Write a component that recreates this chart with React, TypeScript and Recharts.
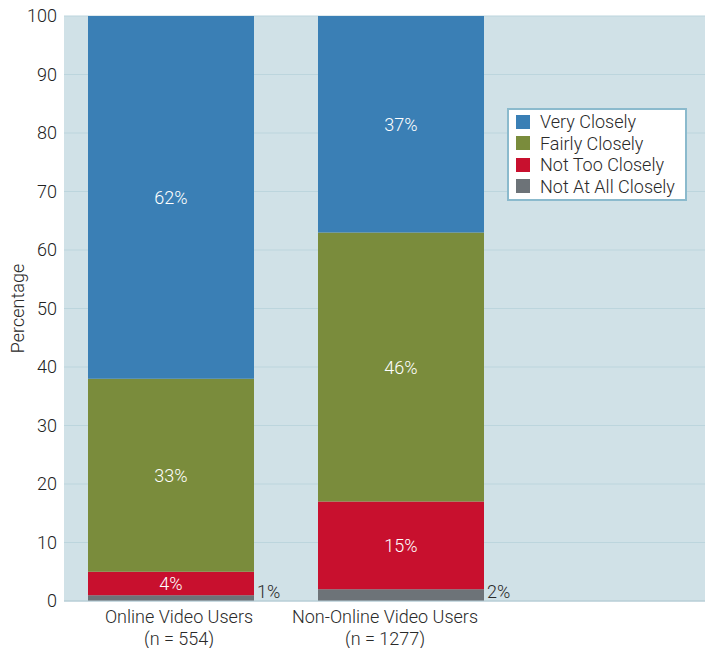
import React from 'react';
import { BarChart, Bar, XAxis, YAxis, CartesianGrid, LabelList } from 'recharts';

const categories = ['Online Video Users', 'Non-Online Video Users'];
const sampleSizes = ['(n = 554)', '(n = 1277)'];
const veryClosely = [62, 37];
const fairlyClosely = [33, 46];
const notTooClosely = [4, 15];
const notAtAllClosely = [1, 2];
const yTicks = [0, 10, 20, 30, 40, 50, 60, 70, 80, 90, 100];

const series = [
  { key: 'notAtAll', name: 'Not At All Closely', color: '#6d7378' },
  { key: 'notToo', name: 'Not Too Closely', color: '#c8102e' },
  { key: 'fairly', name: 'Fairly Closely', color: '#7a8c3c' },
  { key: 'very', name: 'Very Closely', color: '#3a7fb5' },
];

const data = categories.map((name, i) => ({
  name,
  sample: sampleSizes[i],
  very: veryClosely[i],
  fairly: fairlyClosely[i],
  notToo: notTooClosely[i],
  notAtAll: notAtAllClosely[i],
}));

const FONT = 'Roboto, "Liberation Sans", sans-serif';
const tickShift = [8, -16];

const CategoryTick = (props: any) => {
  const { x, y, payload, index } = props;
  const cx = x + (tickShift[index] ?? 0);
  return (
    <text x={cx} y={y} textAnchor="middle" fill="#2a2a2a" fontSize={18} fontFamily={FONT} fontWeight={300}>
      <tspan x={cx} dy={14}>{payload.value}</tspan>
      <tspan x={cx} dy={22}>{sampleSizes[index]}</tspan>
    </text>
  );
};

const pctLabel = (props: any) => {
  const { x, y, width, height, value } = props;
  return (
    <text
      x={x + width / 2}
      y={y + height / 2}
      textAnchor="middle"
      dominantBaseline="central"
      fill="#fff"
      fontSize={18}
      fontFamily={FONT}
      fontWeight={300}
    >
      {value}%
    </text>
  );
};

const sideLabel = (props: any) => {
  const { x, y, width, height, value } = props;
  return (
    <text x={x + width + 3} y={y + height - 3} fill="#2a2a2a" fontSize={18} fontFamily={FONT} fontWeight={300}>
      {value}%
    </text>
  );
};

// legend box sits over the empty right part of the plot
const LegendBox = () => (
  <div
    style={{
      position: 'absolute',
      left: 507,
      top: 108,
      width: 180,
      height: 93,
      boxSizing: 'border-box',
      background: '#fff',
      border: '2px solid #8bbacd',
      padding: '1px 0 0 7px',
      fontFamily: FONT,
      fontWeight: 300,
      fontSize: 18,
      color: '#2a2a2a',
    }}
  >
    {[...series].reverse().map((s) => (
      <div key={s.key} style={{ display: 'flex', alignItems: 'center', height: 21.5, whiteSpace: 'nowrap' }}>
        <span style={{ width: 14, height: 14, background: s.color, marginRight: 10, display: 'inline-block', flexShrink: 0 }} />
        <span>{s.name}</span>
      </div>
    ))}
  </div>
);

export default function App() {
  return (
    <div style={{ position: 'absolute', left: 0, top: 0, width: 705, height: 648, background: '#fff' }}>
      <BarChart width={705} height={648} data={data} margin={{ top: 16, right: 0, bottom: 0, left: 0 }}>
        <CartesianGrid vertical={false} fill="#d0e1e7" stroke="#bcd5dd" />
        <XAxis
          dataKey="name"
          tick={<CategoryTick />}
          tickLine={false}
          axisLine={{ stroke: '#b6cad3' }}
          padding={{ left: -8, right: 189 }}
          interval={0}
          height={47}
        />
        <YAxis
          domain={[0, 100]}
          ticks={yTicks}
          width={64}
          tickLine={false}
          axisLine={false}
          tickSize={0}
          tickMargin={7}
          tick={{ fill: '#222', fontSize: 18, fontFamily: FONT, fontWeight: 300 }}
          label={{
            value: 'Percentage',
            angle: -90,
            position: 'center',
            dx: -14,
            fill: '#2a2a2a',
            fontSize: 18,
            fontFamily: FONT,
            fontWeight: 300,
          }}
        />
        {series.map((s) => (
          <Bar key={s.key} dataKey={s.key} name={s.name} stackId="a" fill={s.color} barSize={166} isAnimationActive={false}>
            <LabelList dataKey={s.key} content={s.key === 'notAtAll' ? sideLabel : pctLabel} />
          </Bar>
        ))}
      </BarChart>
      <LegendBox />
    </div>
  );
}
